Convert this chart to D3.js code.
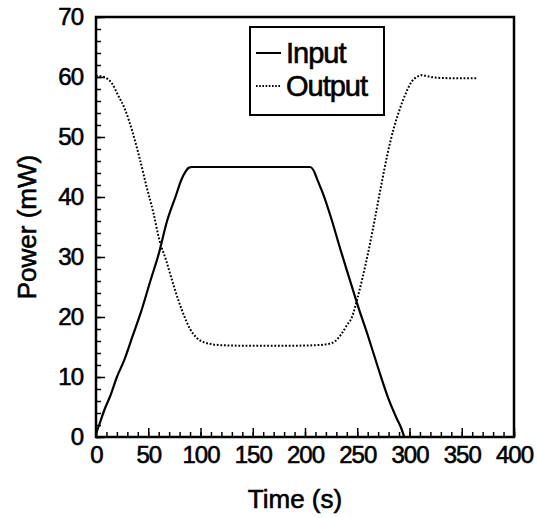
<html>
<head>
<script src="https://cdn.jsdelivr.net/npm/d3@7"></script>
<style>
  body { margin: 0; background: #fff; }
  text { font-family: "Liberation Sans", Arial, Helvetica, sans-serif; fill: #000; stroke: #000; stroke-width: 0.6px; }
  .domain { display: none; }
</style>
</head>
<body>
<div id="chartholder"></div>
<script>
// values
var inputTime = [0, 4, 8, 14, 20, 27, 35, 43, 52, 60, 68, 76, 82, 86, 89, 92, 120, 150, 180, 205, 208, 212, 218, 225, 234, 242, 250, 260, 270, 280, 288, 292, 295];
var inputPower = [0.5, 2.5, 4.5, 7, 10, 12.8, 16.8, 20.8, 26, 30.5, 36, 40, 43, 44.3, 44.9, 45, 45, 45, 45, 45, 44.5, 42.8, 40.2, 36.5, 31.2, 26.7, 22.2, 17, 11.5, 6.3, 3, 1.5, 0];

var outputTime = [0, 5, 10, 15, 21, 28, 35, 42, 48, 55, 61, 67, 73, 79, 85, 90, 96, 103, 110, 120, 150, 180, 210, 222, 229, 235, 240, 245, 250, 255, 261, 267, 273, 279, 285, 291, 297, 302, 307, 312, 318, 325, 340, 365];
var outputPower = [60.2, 60.1, 59.8, 59, 57, 54.5, 50.8, 46.3, 42, 37.3, 32.6, 29.5, 26, 22.7, 19.9, 18, 16.6, 15.8, 15.5, 15.3, 15.2, 15.2, 15.3, 15.5, 16, 17.2, 18.6, 20, 23, 26.5, 31.2, 36.5, 42, 47.2, 51.5, 54.8, 57.5, 59.2, 60, 60.3, 60.1, 59.9, 59.8, 59.8];

var xTicks = [0, 50, 100, 150, 200, 250, 300, 350, 400];
var yTicks = [0, 10, 20, 30, 40, 50, 60, 70];
var seriesNames = ["Input", "Output"];

var width = 537, height = 518;
var margin = {top: 17, right: 23, bottom: 81, left: 96};

var svg = d3.select('#chartholder').append('svg')
    .attr('width', width)
    .attr('height', height);

var x = d3.scaleLinear().domain([0, 400]).range([margin.left, width - margin.right]);
var y = d3.scaleLinear().domain([0, 70]).range([height - margin.bottom, margin.top]);

var inputData = inputTime.map(function(t, i) { return {t: t, p: inputPower[i]}; });
var outputData = outputTime.map(function(t, i) { return {t: t, p: outputPower[i]}; });

// minor ticks
svg.append('g')
    .attr('transform', 'translate(' + margin.left + ',0)')
    .call(d3.axisLeft(y).tickValues(d3.range(0, 71, 2)).tickSize(-5).tickFormat(''))
    .call(function(g) { g.selectAll('line').attr('stroke-width', 1.5); });
svg.append('g')
    .attr('transform', 'translate(0,' + y(0) + ')')
    .call(d3.axisBottom(x).tickValues(d3.range(0, 401, 10)).tickSize(-5).tickFormat(''))
    .call(function(g) { g.selectAll('line').attr('stroke-width', 1.5); });

// major ticks + labels
svg.append('g')
    .attr('transform', 'translate(' + margin.left + ',0)')
    .call(d3.axisLeft(y).tickValues(yTicks).tickSize(-9).tickPadding(13))
    .call(function(g) {
        g.selectAll('line').attr('stroke-width', 1.5);
        g.selectAll('text').attr('font-size', 24).attr('letter-spacing', -1);
    });
svg.append('g')
    .attr('transform', 'translate(0,' + y(0) + ')')
    .call(d3.axisBottom(x).tickValues(xTicks).tickSize(-9).tickPadding(9))
    .call(function(g) {
        g.selectAll('line').attr('stroke-width', 1.5);
        g.selectAll('text').attr('font-size', 24).attr('letter-spacing', -1);
    });

// frame
svg.append('rect')
    .attr('x', x(0)).attr('y', y(70))
    .attr('width', x(400) - x(0)).attr('height', y(0) - y(70))
    .attr('fill', 'none').attr('stroke', '#000').attr('stroke-width', 2.5);

var line = d3.line()
    .x(function(d) { return x(d.t); })
    .y(function(d) { return y(d.p); })
    .curve(d3.curveMonotoneX);

svg.append('path')
    .datum(inputData)
    .attr('d', line)
    .attr('fill', 'none').attr('stroke', '#000').attr('stroke-width', 2.2);

svg.append('path')
    .datum(outputData)
    .attr('d', line)
    .attr('fill', 'none').attr('stroke', '#000').attr('stroke-width', 2)
    .attr('stroke-dasharray', '1.8,1.8');

// axis titles
svg.append('text')
    .attr('x', (x(0) + x(400)) / 2 - 10).attr('y', 508)
    .attr('text-anchor', 'middle').attr('font-size', 26)
    .text('Time (s)');
svg.append('text')
    .attr('transform', 'translate(36,' + ((y(0) + y(70)) / 2) + ') rotate(-90)')
    .attr('text-anchor', 'middle').attr('font-size', 26)
    .text('Power (mW)');

// legend
var legend = svg.append('g');
legend.append('rect')
    .attr('x', 250).attr('y', 27).attr('width', 134).attr('height', 88)
    .attr('fill', '#fff').attr('stroke', '#000').attr('stroke-width', 2);
seriesNames.forEach(function(name, i) {
    var ly = 53 + i * 33;
    legend.append('line')
        .attr('x1', 256).attr('x2', 281).attr('y1', ly).attr('y2', ly)
        .attr('stroke', '#000').attr('stroke-width', 2)
        .attr('stroke-dasharray', i === 0 ? null : '1.6,1.6');
    legend.append('text')
        .attr('x', 286).attr('y', ly + 10)
        .attr('font-size', 29).attr('letter-spacing', -1)
        .text(name);
});
</script>
</body>
</html>
